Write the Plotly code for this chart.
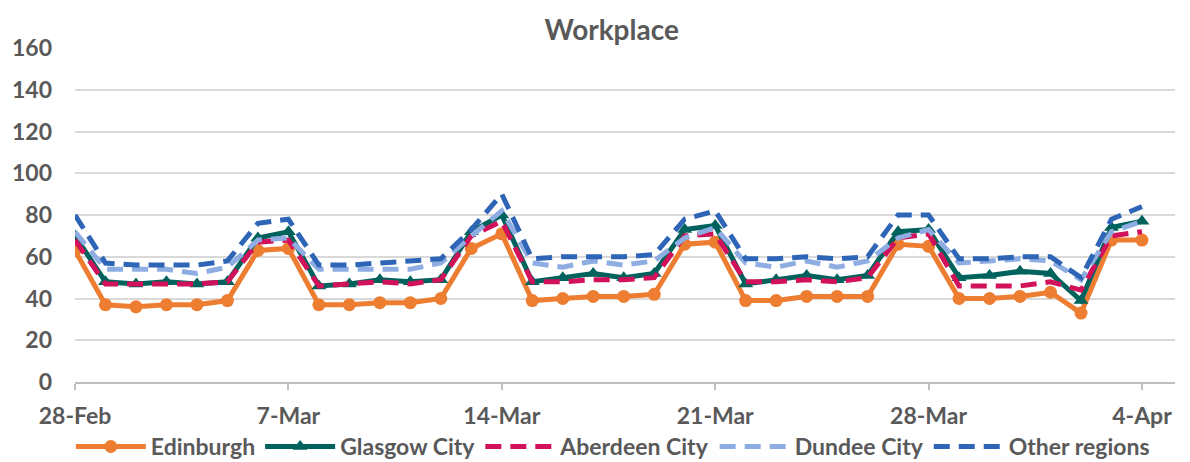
import datetime as dt
import plotly.graph_objects as go

# Daily dates, 28 Feb to 4 Apr
start = dt.date(2021, 2, 28)
dates = [start + dt.timedelta(days=i) for i in range(36)]

edinburgh = [63, 37, 36, 37, 37, 39, 63, 64, 37, 37, 38, 38, 40, 64, 71, 39, 40, 41,
             41, 42, 66, 67, 39, 39, 41, 41, 41, 66, 65, 40, 40, 41, 43, 33, 68, 68]
glasgow = [70, 48, 47, 48, 47, 48, 69, 72, 46, 47, 49, 48, 49, 72, 80, 48, 50, 52,
           50, 52, 73, 75, 47, 49, 51, 49, 51, 72, 73, 50, 51, 53, 52, 39, 74, 77]
aberdeen = [68, 47, 47, 47, 47, 48, 67, 68, 46, 47, 48, 47, 49, 70, 77, 48, 48, 49,
            49, 50, 70, 71, 48, 48, 49, 48, 50, 69, 71, 46, 46, 46, 48, 44, 70, 72]
dundee = [72, 54, 54, 54, 52, 55, 68, 69, 54, 54, 54, 54, 57, 70, 82, 57, 55, 58,
          56, 58, 69, 74, 57, 55, 58, 55, 58, 69, 73, 57, 58, 59, 58, 49, 72, 77]
other = [80, 57, 56, 56, 56, 58, 76, 78, 56, 56, 57, 58, 59, 73, 90, 59, 60, 60,
         60, 61, 78, 82, 59, 59, 60, 59, 60, 80, 80, 59, 59, 60, 60, 50, 78, 84]

tick_dates = [dates[i] for i in range(0, 36, 7)]
tick_labels = ["28-Feb", "7-Mar", "14-Mar", "21-Mar", "28-Mar", "4-Apr"]
y_ticks = list(range(0, 161, 20))

FONT = "Lato"
GREY = "#595959"
DASH = "16px,9px"

fig = go.Figure()
fig.add_trace(go.Scatter(
    x=dates, y=edinburgh, name="Edinburgh", mode="lines+markers",
    line=dict(color="#ED7D31", width=5),
    marker=dict(symbol="circle", size=13, color="#ED7D31"),
))
fig.add_trace(go.Scatter(
    x=dates, y=glasgow, name="Glasgow City", mode="lines+markers",
    line=dict(color="#00625C", width=5),
    marker=dict(symbol="triangle-up", size=13, color="#00625C"),
))
fig.add_trace(go.Scatter(
    x=dates, y=aberdeen, name="Aberdeen City", mode="lines",
    line=dict(color="#D11159", width=5, dash=DASH),
))
fig.add_trace(go.Scatter(
    x=dates, y=dundee, name="Dundee City", mode="lines",
    line=dict(color="#8EADE2", width=5, dash=DASH),
))
fig.add_trace(go.Scatter(
    x=dates, y=other, name="Other regions", mode="lines",
    line=dict(color="#2F65B7", width=5, dash=DASH),
))

fig.update_layout(
    width=1190, height=462,
    margin=dict(l=75, r=15, t=48, b=80, autoexpand=False),
    paper_bgcolor="white", plot_bgcolor="white",
    font=dict(family=FONT, color=GREY, size=23, weight=700),
    title=dict(text="Workplace", x=0.514, xanchor="center", y=0.935, yanchor="middle",
               font=dict(family=FONT, size=28, color=GREY, weight=700)),
    showlegend=True,
    legend=dict(orientation="h", xref="container", yref="container",
                x=0.515, xanchor="center", y=0.08, yanchor="top",
                font=dict(family=FONT, size=23, color=GREY, weight=700),
                itemwidth=70, tracegroupgap=0, bgcolor="rgba(0,0,0,0)"),
)

fig.update_xaxes(
    type="date", automargin=False,
    range=[dt.datetime(2021, 2, 28), dt.datetime(2021, 4, 5, 2)],
    tickvals=tick_dates, ticktext=tick_labels,
    showgrid=False, zeroline=False,
    showline=True, linecolor="#BFBFBF", linewidth=1.5,
    ticks="outside", ticklen=6, tickcolor="#BFBFBF", tickwidth=1.5,
    ticklabelstandoff=7,
    tickfont=dict(family=FONT, size=23, color=GREY, weight=700),
)
fig.update_yaxes(
    range=[0, 160], tickvals=y_ticks, automargin=False,
    showgrid=True, gridcolor="#D9D9D9", gridwidth=1.5,
    zeroline=False, showline=False,
    ticks="", ticklabelstandoff=22,
    tickfont=dict(family=FONT, size=23, color=GREY, weight=700),
)

fig.write_html("out.html")
